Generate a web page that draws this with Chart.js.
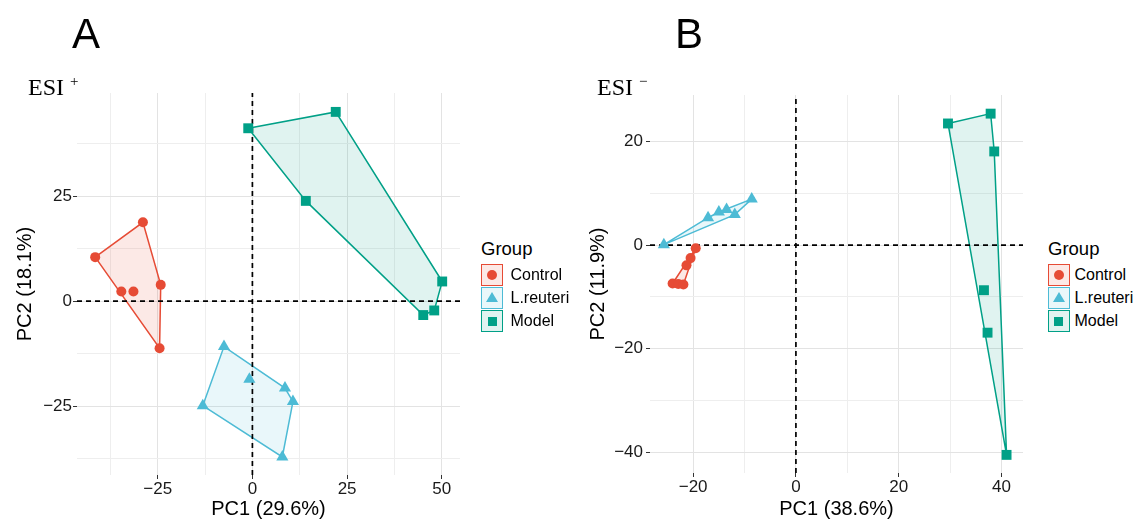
<!DOCTYPE html>
<html>
<head>
<meta charset="utf-8">
<script src="https://cdn.jsdelivr.net/npm/chart.js@4.4.1/dist/chart.umd.min.js"></script>
<style>
body { margin: 0; background: #fff; font-family: "Liberation Sans", Arial, sans-serif; }
#page { position: relative; width: 1135px; height: 521px; overflow: hidden; background: #fff; }
canvas { position: absolute; top: 0; }
.tag { position: absolute; font-size: 42px; line-height: 1; color: #000; }
.esi { position: absolute; font-family: "Liberation Serif", "Times New Roman", serif; font-size: 24px; line-height: 1; color: #000; white-space: nowrap; }
.esi span { position: relative; top: -9px; font-size: 15px; margin-left: 6px; }
.lg-title { position: absolute; font-size: 18.5px; line-height: 1; color: #000; }
.lg-key { position: absolute; display: flex; align-items: center; height: 22px; }
.lg-box { box-sizing: border-box; width: 22px; height: 22px; border: 1.5px solid; display: flex; align-items: center; justify-content: center; }
.lg-label { font-size: 16px; line-height: 1; color: #000; white-space: nowrap; }
</style>
</head>
<body>
<div id="page">
  <canvas id="chartA" width="470" height="521" style="left:0px;width:470px;height:521px"></canvas>
  <canvas id="chartB" width="475" height="521" style="left:560px;width:475px;height:521px"></canvas>
  <div class="tag" style="left:72px;top:12.5px">A</div>
  <div class="tag" style="left:675px;top:12.5px">B</div>
  <div class="esi" style="left:28px;top:75px">ESI<span>+</span></div>
  <div class="esi" style="left:597px;top:75px">ESI<span>&minus;</span></div>
</div>
<script>
const GROUPS = ['Control', 'L.reuteri', 'Model'];
const GROUP_COLORS = ['#E64B35', '#4DBBD5', '#00A087'];
const GROUP_SHAPES = ['circle', 'triangle', 'rect'];

// panel A : ESI+
const A_CONTROL_X = [-41.5, -28.9, -34.6, -31.4, -24.2, -24.5];
const A_CONTROL_Y = [10.5, 18.8, 2.3, 2.3, 3.9, -11.2];
const A_REUTERI_X = [-7.5, -0.8, 8.6, 10.7, -13.1, 7.9];
const A_REUTERI_Y = [-10.8, -18.6, -20.7, -23.9, -24.9, -37.1];
const A_MODEL_X = [-1.1, 22.0, 14.1, 50.1, 48.0, 45.1];
const A_MODEL_Y = [41.2, 45.1, 23.9, 4.7, -2.2, -3.3];
const A_X_RANGE = [-46.3, 54.8];
const A_Y_RANGE = [-41.4, 49.6];
const A_X_TICKS = [-37.5, -25, -12.5, 0, 12.5, 25, 37.5, 50];
const A_X_LABELS = [-25, 0, 25, 50];
const A_Y_TICKS = [-37.5, -25, -12.5, 0, 12.5, 25, 37.5];
const A_Y_LABELS = [-25, 0, 25];

// panel B : ESI-
const B_CONTROL_X = [-19.5, -20.5, -21.3, -24.0, -22.9, -21.9];
const B_CONTROL_Y = [-0.6, -2.5, -3.9, -7.4, -7.5, -7.6];
const B_REUTERI_X = [-25.7, -17.1, -15.0, -13.5, -11.9, -8.6];
const B_REUTERI_Y = [0.1, 5.3, 6.4, 6.9, 5.9, 8.9];
const B_MODEL_X = [29.6, 37.9, 38.6, 36.6, 37.3, 41.0];
const B_MODEL_Y = [23.5, 25.4, 18.1, -8.7, -16.9, -40.5];
const B_X_RANGE = [-28.4, 44.2];
const B_Y_RANGE = [-44.0, 29.0];
const B_X_TICKS = [-20, -10, 0, 10, 20, 30, 40];
const B_X_LABELS = [-20, 0, 20, 40];
const B_Y_TICKS = [-40, -30, -20, -10, 0, 10, 20];
const B_Y_LABELS = [-40, -20, 0, 20];

const FONT = '"Liberation Sans", Arial, sans-serif';
const FILL_ALPHA = 0.12;

function alpha(hex, a) {
    const n = parseInt(hex.slice(1), 16);
    return `rgba(${n >> 16},${(n >> 8) & 255},${n & 255},${a})`;
}

function fmt(v) { return v < 0 ? '\u2212' + Math.abs(v) : String(v); }

// convex hull (monotone chain), closed
function hull(pts) {
    const p = pts.slice().sort((a, b) => a.x - b.x || a.y - b.y);
    const cross = (o, a, b) => (a.x - o.x) * (b.y - o.y) - (a.y - o.y) * (b.x - o.x);
    const lower = [], upper = [];
    for (const q of p) {
        while (lower.length >= 2 && cross(lower[lower.length - 2], lower[lower.length - 1], q) <= 0) lower.pop();
        lower.push(q);
    }
    for (const q of p.slice().reverse()) {
        while (upper.length >= 2 && cross(upper[upper.length - 2], upper[upper.length - 1], q) <= 0) upper.pop();
        upper.push(q);
    }
    const h = lower.slice(0, -1).concat(upper.slice(0, -1));
    h.push(h[0]);
    return h;
}

function axis(range, ticks, labels, size, title, titlePad, tickPad) {
    const major = v => labels.includes(v);
    return {
        type: 'linear', min: range[0], max: range[1],
        afterBuildTicks: s => { s.ticks = ticks.map(v => ({ value: v })); },
        afterFit: s => { if (s.isHorizontal()) s.height = size; else s.width = size; },
        border: { display: false },
        grid: {
            color: c => major(c.tick.value) ? '#e3e3e3' : '#eeeeee',
            lineWidth: 1,
            drawTicks: true,
            tickLength: 4,
            tickWidth: 1,
            tickColor: c => major(c.tick.value) ? '#333' : 'rgba(0,0,0,0)'
        },
        ticks: {
            autoSkip: false, maxRotation: 0, padding: tickPad,
            color: '#1a1a1a', font: { size: 17, family: FONT },
            callback: v => major(v) ? fmt(v) : ''
        },
        title: { display: true, text: title, color: '#000', font: { size: 20, family: FONT }, padding: titlePad }
    };
}

function makePanel(id, p) {
    const datasets = [];
    p.series.forEach((s, i) => {
        const pts = s[0].map((x, j) => ({ x: x, y: s[1][j] }));
        datasets.push({
            type: 'line', data: hull(pts), borderColor: GROUP_COLORS[i],
            backgroundColor: alpha(GROUP_COLORS[i], FILL_ALPHA), borderWidth: 1.5,
            fill: 'shape', pointRadius: 0, tension: 0, order: 3
        });
        datasets.push({
            type: 'scatter', data: pts, pointStyle: GROUP_SHAPES[i],
            pointRadius: GROUP_SHAPES[i] === 'circle' ? 5 : 7,
            backgroundColor: GROUP_COLORS[i], borderColor: GROUP_COLORS[i], borderWidth: 0, order: 1
        });
    });
    const dash = { type: 'line', borderColor: '#000', borderWidth: 1.7, borderDash: [5, 4], pointRadius: 0, fill: false, order: 2 };
    datasets.push(Object.assign({ data: [{ x: 0, y: p.yRange[0] }, { x: 0, y: p.yRange[1] }] }, dash));
    datasets.push(Object.assign({ data: [{ x: p.xRange[0], y: 0 }, { x: p.xRange[1], y: 0 }] }, dash));

    new Chart(document.getElementById(id), {
        type: 'scatter',
        data: { datasets: datasets },
        options: {
            responsive: false, animation: false, events: [],
            layout: { padding: p.pad },
            plugins: { legend: { display: false }, tooltip: { enabled: false } },
            scales: {
                x: axis(p.xRange, p.xTicks, p.xLabels, p.xSize, p.xTitle, { top: 0, bottom: 0 }, 0),
                y: axis(p.yRange, p.yTicks, p.yLabels, p.ySize, p.yTitle, { top: p.yTitlePad, bottom: 0 }, p.yTickPad)
            }
        }
    });
}

function makeLegend(titleLeft, boxLeft, labelGap) {
    const page = document.getElementById('page');
    const t = document.createElement('div');
    t.className = 'lg-title';
    t.textContent = 'Group';
    t.style.left = titleLeft + 'px';
    t.style.top = '239.5px';
    page.appendChild(t);
    GROUPS.forEach((g, i) => {
        const key = document.createElement('div');
        key.className = 'lg-key';
        key.style.left = boxLeft + 'px';
        key.style.top = (263.5 + i * 23.3) + 'px';
        const box = document.createElement('div');
        box.className = 'lg-box';
        box.style.borderColor = GROUP_COLORS[i];
        box.style.background = alpha(GROUP_COLORS[i], FILL_ALPHA);
        const sym = document.createElement('div');
        if (GROUP_SHAPES[i] === 'circle') {
            sym.style.cssText = `width:10px;height:10px;border-radius:50%;background:${GROUP_COLORS[i]}`;
        } else if (GROUP_SHAPES[i] === 'triangle') {
            sym.style.cssText = `width:0;height:0;border-left:6px solid transparent;border-right:6px solid transparent;border-bottom:10px solid ${GROUP_COLORS[i]};margin-top:-2px`;
        } else {
            sym.style.cssText = `width:9px;height:9px;background:${GROUP_COLORS[i]}`;
        }
        box.appendChild(sym);
        const lab = document.createElement('div');
        lab.className = 'lg-label';
        lab.style.marginLeft = labelGap + 'px';
        lab.textContent = g;
        key.appendChild(box);
        key.appendChild(lab);
        page.appendChild(key);
    });
}

makePanel('chartA', {
    series: [[A_CONTROL_X, A_CONTROL_Y], [A_REUTERI_X, A_REUTERI_Y], [A_MODEL_X, A_MODEL_Y]],
    xRange: A_X_RANGE, yRange: A_Y_RANGE,
    xTicks: A_X_TICKS, xLabels: A_X_LABELS, yTicks: A_Y_TICKS, yLabels: A_Y_LABELS,
    xTitle: 'PC1 (29.6%)', yTitle: 'PC2 (18.1%)',
    pad: { top: 93, right: 10, left: 0, bottom: 0 },
    xSize: 46, ySize: 77, yTitlePad: 13, yTickPad: 1
});

makePanel('chartB', {
    series: [[B_CONTROL_X, B_CONTROL_Y], [B_REUTERI_X, B_REUTERI_Y], [B_MODEL_X, B_MODEL_Y]],
    xRange: B_X_RANGE, yRange: B_Y_RANGE,
    xTicks: B_X_TICKS, xLabels: B_X_LABELS, yTicks: B_Y_TICKS, yLabels: B_Y_LABELS,
    xTitle: 'PC1 (38.6%)', yTitle: 'PC2 (11.9%)',
    pad: { top: 95, right: 12, left: 0, bottom: 0 },
    xSize: 48, ySize: 90, yTitlePad: 26, yTickPad: 3
});

makeLegend(481, 481, 7.5);
makeLegend(1048, 1047.5, 5);
</script>
</body>
</html>
